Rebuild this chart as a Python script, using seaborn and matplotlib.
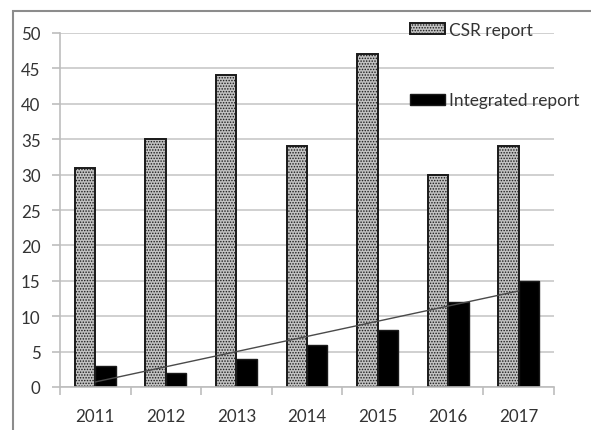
import numpy as np
import pandas as pd
import matplotlib
matplotlib.use("Agg")
import matplotlib.pyplot as plt
from matplotlib.patches import Rectangle
from matplotlib.ticker import FixedLocator
import seaborn as sns

years = ["2011", "2012", "2013", "2014", "2015", "2016", "2017"]
csr_report = [31, 35, 44, 34, 47, 30, 34]
integrated_report = [3, 2, 4, 6, 8, 12, 15]
series_names = ["CSR report", "Integrated report"]
y_ticks = [0, 5, 10, 15, 20, 25, 30, 35, 40, 45, 50]

sns.set_theme(style="white")
plt.rcParams["font.family"] = ["Lato", "DejaVu Sans"]
plt.rcParams["hatch.linewidth"] = 0.7

df = pd.DataFrame({
    "year": years * 2,
    "count": csr_report + integrated_report,
    "series": [series_names[0]] * len(years) + [series_names[1]] * len(years),
})

W, H = 591, 431
fig = plt.figure(figsize=(W / 100, H / 100), dpi=100)
ax = fig.add_axes([60 / W, 1 - 388 / H, (554 - 60) / W, (388 - 34) / H])

sns.barplot(data=df, x="year", y="count", hue="series", order=years,
            hue_order=series_names, palette=["#a8a8a8", "#000000"],
            width=0.58, saturation=1, ax=ax, legend=False, zorder=2)

csr_face = "#c2c2c2"
# dotted fill for the CSR bars, solid black for integrated
for bar in ax.containers[0]:
    bar.set_facecolor(csr_face)
    bar.set_edgecolor("#1a1a1a")
    bar.set_hatch("......")
    bar.set_linewidth(1.4)
for bar in ax.containers[1]:
    bar.set_facecolor("#000000")
    bar.set_edgecolor("#1a1a1a")
    bar.set_linewidth(1.0)

# linear trendline of the integrated report counts
xs = np.arange(len(years))
slope, intercept = np.polyfit(xs, integrated_report, 1)
ax.plot([xs[0], xs[-1]], [intercept, intercept + slope * xs[-1]],
        color="#4a4a4a", lw=1.0, zorder=3)

ax.set_ylim(0, 50)
ax.set_xlim(-0.5, len(years) - 0.5)
ax.set_yticks(y_ticks)
ax.set_xlabel("")
ax.set_ylabel("")
ax.yaxis.grid(True, color="#c8c8c8", lw=1.2, zorder=0)
ax.set_axisbelow(True)
for side in ["top", "right"]:
    ax.spines[side].set_visible(False)
for side in ["left", "bottom"]:
    ax.spines[side].set_color("#bdbdbd")
    ax.spines[side].set_linewidth(1.2)

tick_size = 12.2
ax.tick_params(axis="y", which="major", length=6, width=1.2, color="#bdbdbd",
               labelsize=tick_size, labelcolor="#333333", pad=8, left=True)
ax.tick_params(axis="x", which="major", length=0, labelsize=tick_size,
               labelcolor="#333333", pad=15)
ax.xaxis.set_minor_locator(FixedLocator(np.arange(-0.5, len(years), 1.0)))
ax.tick_params(axis="x", which="minor", length=6, width=1.2, color="#bdbdbd",
               bottom=True)

# legend: patches with labels, spread down the upper right
handles = [
    Rectangle((0, 0), 1, 1, facecolor=csr_face, edgecolor="#1a1a1a",
              hatch="......", lw=1.4),
    Rectangle((0, 0), 1, 1, facecolor="#000000", edgecolor="#1a1a1a", lw=1.0),
]
fig.legend(handles, series_names, loc="upper left",
           bbox_to_anchor=(410 / W, 1 - 23 / H), frameon=False,
           fontsize=12.4, handlelength=2.05, handleheight=0.6,
           handletextpad=0.2, labelspacing=3.15, borderpad=0,
           borderaxespad=0, labelcolor="#333333")

# outer chart border
fig.add_artist(Rectangle((13 / W, -0.05), 1.1, 1 - 12 / H + 0.05,
                         transform=fig.transFigure, fill=False,
                         edgecolor="#8c8c8c", lw=1.5))

fig.savefig("out.png", dpi=100)
